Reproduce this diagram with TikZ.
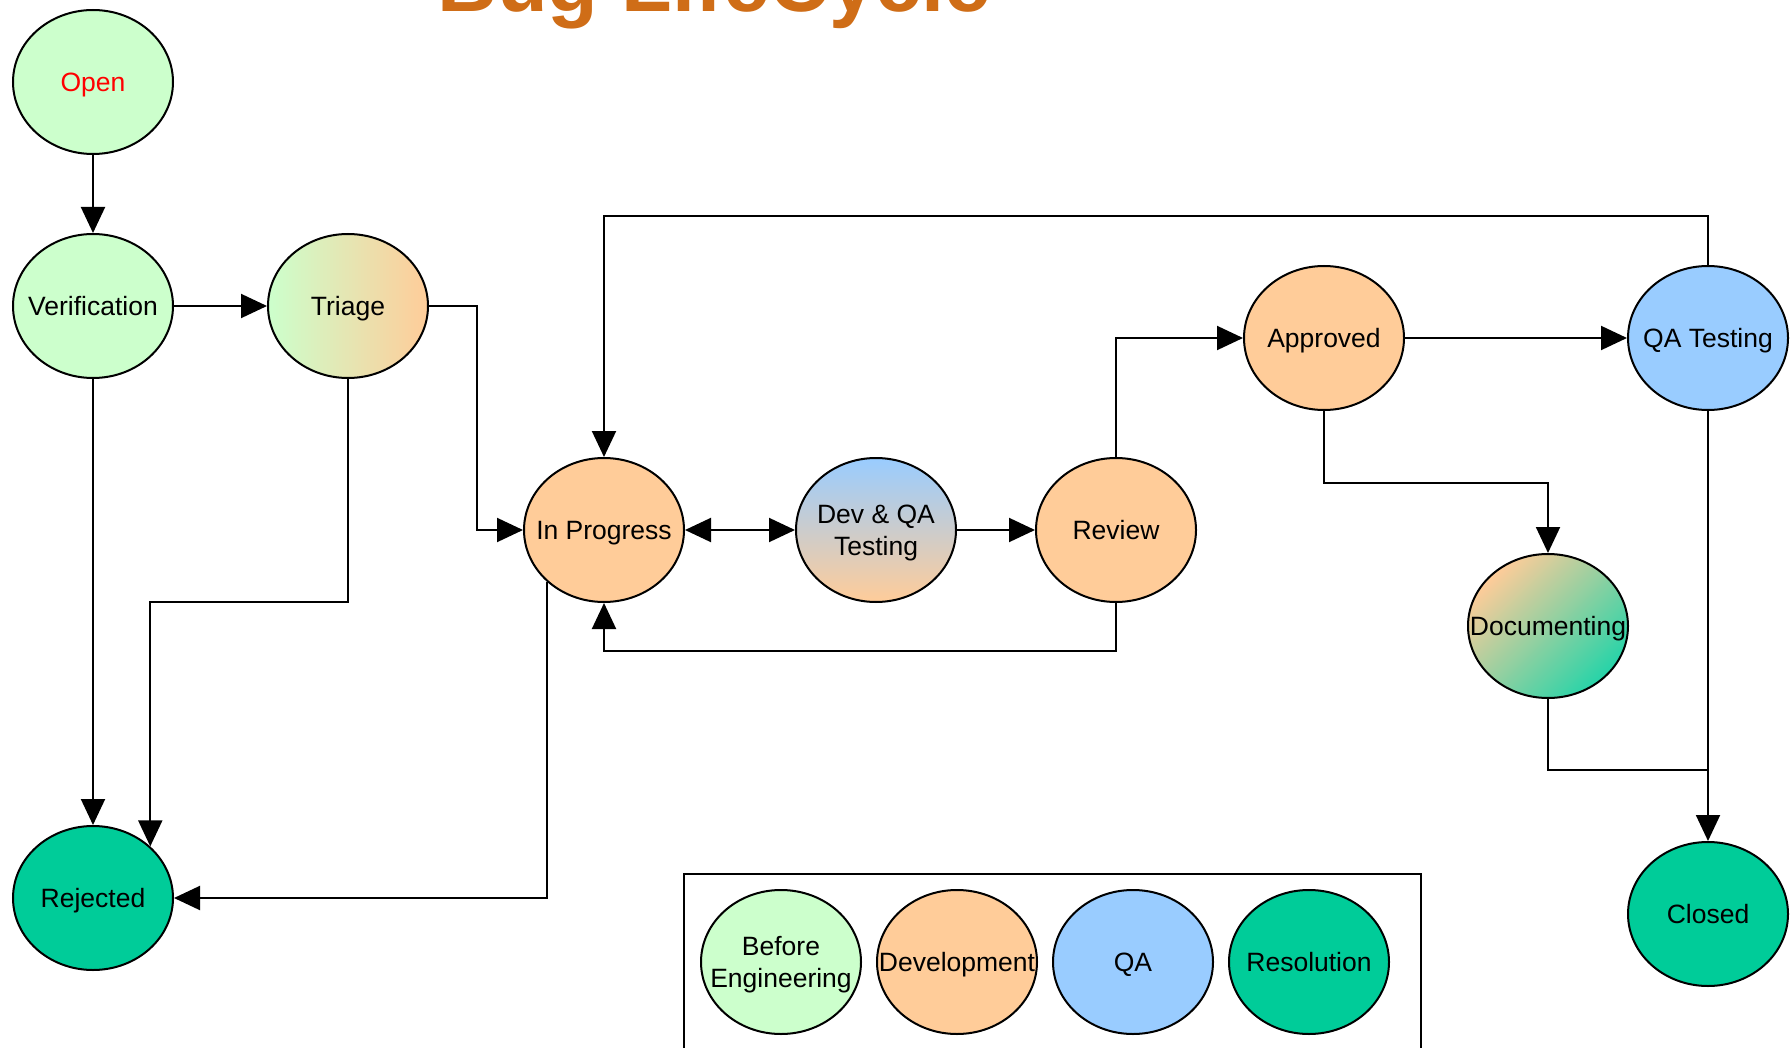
\documentclass[tikz,border=0pt]{standalone}
\usepackage{fontspec}
\setmainfont{Liberation Sans}
\usetikzlibrary{shapes.geometric,arrows.meta}
\definecolor{befc}{HTML}{CCFFCC}
\definecolor{devc}{HTML}{FFCC99}
\definecolor{qac}{HTML}{99CCFF}
\definecolor{resc}{HTML}{00CC99}
\definecolor{titlec}{HTML}{CF6D17}
\newcommand\ctx[1]{\raisebox{-3.5pt}[\height][\depth]{\makebox[0pt][c]{\begin{tabular}{@{}c@{}}#1\end{tabular}}}}
\tikzset{
  st/.style={ellipse,draw=black,line width=2pt,minimum width=160pt,minimum height=144pt,inner sep=0pt,
    font=\fontsize{26.5}{32}\selectfont},
  arr/.style={line width=2pt,-{Triangle[length=26pt,width=24pt]}},
  arrb/.style={line width=2pt,{Triangle[length=26pt,width=24pt]}-{Triangle[length=26pt,width=24pt]}},
  ln/.style={line width=2pt}
}
\begin{document}
\begin{tikzpicture}[x=1pt,y=-1pt]
\useasboundingbox (0,0) rectangle (1791,1048);
\fill[white] (0,0) rectangle (1791,1048);
\node[anchor=base,text=titlec,font=\fontsize{83}{90}\selectfont\bfseries] (title) at (714,11.5) {Bug LifeCycle};

\node[st,fill=befc,text=red] (open) at (93,82) {\ctx{Open}};
\node[st,fill=befc] (ver) at (93,306) {\ctx{Verification}};
\node[st,left color=befc,right color=devc] (tri) at (348,306) {\ctx{Triage}};
\node[st,fill=devc] (inp) at (604,530) {\ctx{In Progress}};
\node[st,top color=qac,bottom color=devc] (dev) at (876,530) {\ctx{Dev \& QA\\Testing}};
\node[st,fill=devc] (rev) at (1116,530) {\ctx{Review}};
\node[st,fill=devc] (app) at (1324,338) {\ctx{Approved}};
\node[st,fill=qac] (qa) at (1708,338) {\ctx{QA Testing}};
\node[st,top color=devc,bottom color=resc!85!white,shading angle=45] (doc) at (1548,626) {\ctx{Documenting}};
\node[st,fill=resc] (clo) at (1708,914) {\ctx{Closed}};
\node[st,fill=resc] (rej) at (93,898) {\ctx{Rejected}};

\coordinate (c1) at (150,602);
\coordinate (c2) at (600,770);

\draw[arr] (open) -- (ver);
\draw[arr] (ver) -- (tri);
\draw[arr] (ver) -- (rej);
\draw[arr] (tri.south) |- (rej.north east |- c1) -- (rej.north east);
\draw[arr] (tri.east) -- ++(48,0) |- (inp.west);
\draw[arrb] (inp) -- (dev);
\draw[arr] (dev) -- (rev);
\draw[arr] (rev.south) -- ++(0,48) -| (inp.south);
\draw[arr] (rev.north) |- (app.west);
\draw[arr] (app) -- (qa);
\draw[arr] (qa.north) -- ++(0,-49) -| (inp.north);
\draw[arr] (app.south) -- ++(0,72) -| (doc.north);
\draw[arr] (qa) -- (clo);
\draw[ln] (doc.south) |- (qa.south |- c2);
\draw[arr] (inp.south west) |- (rej.east);

\draw[ln] (684,874) rectangle (1421,1070);
\node[st,fill=befc] (l1) at (781,962) {\ctx{Before\\Engineering}};
\node[st,fill=devc] (l2) at (957,962) {\ctx{Development}};
\node[st,fill=qac] (l3) at (1133,962) {\ctx{QA}};
\node[st,fill=resc] (l4) at (1309,962) {\ctx{Resolution}};
\end{tikzpicture}
\end{document}
